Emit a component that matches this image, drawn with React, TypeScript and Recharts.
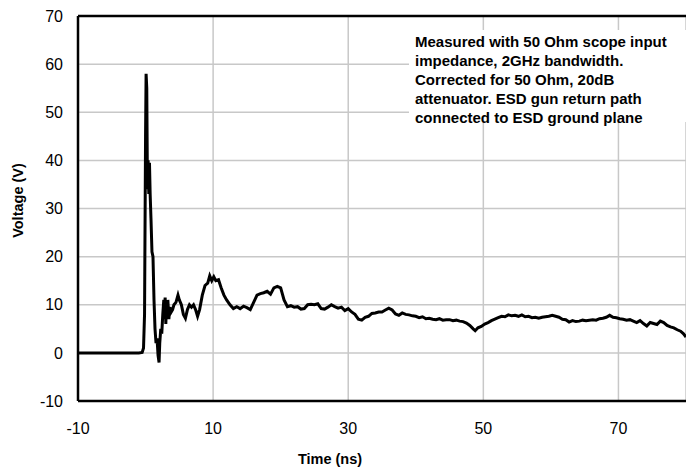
import React from 'react';
import { LineChart, Line, XAxis, YAxis, CartesianGrid, ReferenceLine, Label } from 'recharts';

const timeNs = [
  -10, -5, -1, -0.5, -0.3, -0.15, 0, 0.08, 0.18, 0.28, 0.38, 0.48, 0.58, 0.68, 0.8, 0.95,
  1.1, 1.25, 1.4, 1.55, 1.7, 1.85, 2, 2.1, 2.25, 2.4, 2.55, 2.7, 2.8, 2.9, 3, 3.1, 3.2, 3.3,
  3.45, 3.6, 3.8, 4, 4.2, 4.5, 4.8, 5, 5.3, 5.6, 5.9, 6.2, 6.5, 6.8, 7.1, 7.4, 7.7, 8, 8.4,
  8.8, 9.2, 9.5, 9.8, 10.1, 10.4, 10.8, 11.2, 11.6, 12, 12.5, 13, 13.5, 14, 14.5, 15, 15.5,
  16, 16.5, 17, 17.5, 18, 18.5, 19, 19.5, 20, 20.5, 21, 21.5, 22, 22.5, 23, 23.5, 24, 24.5,
  25, 25.5, 26, 26.5, 27, 27.5, 28, 28.5, 29, 29.5, 30, 30.5, 31, 31.5, 32, 32.5, 33, 33.5,
  34, 34.5, 35, 35.5, 36, 36.5, 37, 37.5, 38, 38.5, 39, 39.5, 40, 40.5, 41, 41.5, 42, 42.5,
  43, 43.5, 44, 44.5, 45, 45.5, 46, 46.5, 47, 47.5, 48, 48.5, 48.8, 49.2, 49.7, 50.2, 50.7,
  51.2, 51.7, 52.2, 52.7, 53.2, 53.7, 54.2, 54.7, 55.2, 55.7, 56.2, 56.7, 57.2, 57.7, 58.2,
  58.7, 59.2, 59.7, 60.2, 60.7, 61.2, 61.7, 62.2, 62.7, 63.2, 63.7, 64.2, 64.7, 65.2, 65.7,
  66.2, 66.7, 67.2, 67.7, 68.2, 68.7, 69.2, 69.7, 70.2, 70.7, 71.2, 71.7, 72.2, 72.7, 73.2,
  73.7, 74.2, 74.7, 75.2, 75.7, 76.2, 76.7, 77.2, 77.7, 78.2, 78.7, 79.2, 79.6, 80,
];

const voltageV = [
  0, 0, 0, 0.1, 1, 8, 45, 58, 55, 34, 40, 33, 39.5, 33, 28, 21,
  20, 11, 5, 2, 3, -0.5, -2, 2, 5, 4, 8, 11, 7, 11.5, 6, 10, 7.5, 11,
  7, 9.5, 8.5, 9, 10, 10.5, 12, 11, 10, 8, 7.2, 9, 10, 9.5, 10, 9, 7.6, 9, 12,
  14, 14.5, 16, 15, 15.8, 15, 15.2, 13.5, 12, 11, 10, 9.2, 9.6, 9.2, 9.7, 9.4, 9,
  10.5, 12, 12.3, 12.5, 12.8, 12.2, 13.5, 13.8, 13.5, 11, 9.6, 9.8, 9.5, 9.6, 9.1, 9.2, 10, 10.1,
  10, 10.2, 9.2, 9.1, 9.5, 10, 9.6, 9.3, 9.5, 8.8, 9.2, 8.5, 8, 7, 6.8, 7.4, 7.6, 8.2,
  8.3, 8.5, 8.5, 8.9, 9.3, 8.9, 8.1, 7.8, 8.3, 8, 7.9, 7.7, 7.6, 7.3, 7.5, 7.1, 7.2, 7,
  6.9, 7.1, 6.8, 6.9, 6.9, 6.7, 6.8, 6.6, 6.5, 6.2, 5.7, 5, 4.6, 5.2, 5.5, 6, 6.3,
  6.7, 7, 7.3, 7.6, 7.5, 7.9, 7.7, 7.8, 7.6, 7.9, 7.5, 7.6, 7.3, 7.4, 7.2,
  7.4, 7.5, 7.6, 7.8, 7.6, 7.4, 7, 6.9, 6.4, 6.7, 6.5, 6.6, 6.8, 6.7, 6.8,
  6.9, 6.8, 7.1, 7.2, 7.4, 7.8, 7.4, 7.3, 7.1, 7, 6.8, 6.9, 6.6, 6.3, 6.7,
  6.1, 5.6, 6.3, 6.1, 5.9, 6.6, 6.3, 5.7, 5.4, 5.2, 4.8, 4.5, 4, 3.3,
];

const xTicks = [-10, 10, 30, 50, 70];
const yTicks = [-10, 0, 10, 20, 30, 40, 50, 60, 70];

const noteLines = [
  'Measured with 50 Ohm scope input',
  'impedance, 2GHz bandwidth.',
  'Corrected for 50 Ohm, 20dB',
  'attenuator. ESD gun return path',
  'connected to ESD ground plane',
];

const data = timeNs.map((t, i) => ({ t, v: voltageV[i] }));

const font = '"Liberation Sans", Arial, sans-serif';

export default function App() {
  return (
    <div style={{ position: 'absolute', left: 0, top: 0, width: 686, height: 470, background: '#fff', fontFamily: font }}>
      <LineChart width={686} height={470} data={data} margin={{ top: 16, right: 0, bottom: 0, left: 0 }}>
        <CartesianGrid stroke="#c8c8c8" strokeWidth={1.5} />
        <XAxis
          type="number"
          dataKey="t"
          domain={[-10, 80]}
          ticks={xTicks}
          height={69}
          tickSize={0}
          tickMargin={22}
          axisLine={{ stroke: '#000', strokeWidth: 2.5 }}
          tick={{ fill: '#000', fontSize: 16, fontFamily: font }}
          allowDataOverflow
        >
          <Label value="Time (ns)" position="insideBottom" offset={6} dx={-52} style={{ fontWeight: 'bold', fontSize: 14.5, fill: '#000', fontFamily: font }} />
        </XAxis>
        <YAxis
          type="number"
          domain={[-10, 70]}
          ticks={yTicks}
          width={78}
          tickSize={0}
          tickMargin={15}
          axisLine={{ stroke: '#000', strokeWidth: 2.5 }}
          tick={{ fill: '#000', fontSize: 16, fontFamily: font }}
          allowDataOverflow
        >
          <Label value="Voltage (V)" angle={-90} position="insideLeft" offset={18} dy={-8} style={{ fontWeight: 'bold', fontSize: 14.5, fill: '#000', fontFamily: font, textAnchor: 'middle' }} />
        </YAxis>
        <ReferenceLine y={70} stroke="#000" strokeWidth={2.5} />
        <Line
          type="linear"
          dataKey="v"
          stroke="#000"
          strokeWidth={3}
          dot={false}
          isAnimationActive={false}
        />
      </LineChart>
      <div
        style={{
          position: 'absolute',
          left: 409,
          top: 30,
          width: 277,
          height: 92,
          background: '#fff',
          fontWeight: 'bold',
          fontSize: 15,
          lineHeight: '19px',
          paddingLeft: 6,
          paddingTop: 2,
          boxSizing: 'border-box',
          color: '#000',
          whiteSpace: 'nowrap',
        }}
      >
        {noteLines.map((s) => (
          <div key={s}>{s}</div>
        ))}
      </div>
    </div>
  );
}
